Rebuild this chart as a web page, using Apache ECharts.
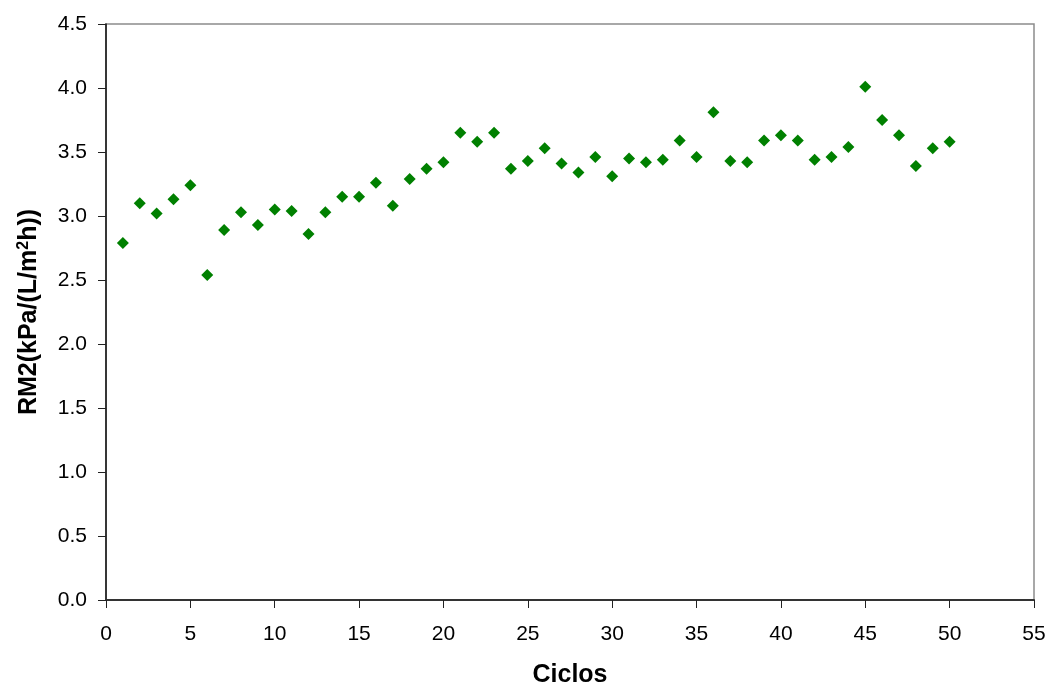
<!DOCTYPE html>
<html>
<head>
<meta charset="utf-8">
<script src="https://cdn.jsdelivr.net/npm/echarts@6/dist/echarts.min.js"></script>
<style>html,body{margin:0;padding:0;background:#fff;}#c{width:1049px;height:693px;}</style>
</head>
<body>
<div id="c"></div>
<script>
const ciclos = [1,2,3,4,5,6,7,8,9,10,11,12,13,14,15,16,17,18,19,20,21,22,23,24,25,26,27,28,29,30,31,32,33,34,35,36,37,38,39,40,41,42,43,44,45,46,47,48,49,50];
const rm2 = [2.79,3.10,3.02,3.13,3.24,2.54,2.89,3.03,2.93,3.05,3.04,2.86,3.03,3.15,3.15,3.26,3.08,3.29,3.37,3.42,
             3.65,3.58,3.65,3.37,3.43,3.53,3.41,3.34,3.46,3.31,3.45,3.42,3.44,3.59,3.46,3.81,3.43,3.42,3.59,3.63,
             3.59,3.44,3.46,3.54,4.01,3.75,3.63,3.39,3.53,3.58];
const xTitle = 'Ciclos';
const yTitle = 'RM2(kPa/(L/m{sup|2}h))';

const FONT = 'Liberation Sans, Arial, sans-serif';
const chart = echarts.init(document.getElementById('c'));
chart.setOption({
  animation: false,
  backgroundColor: '#ffffff',
  grid: {left: 106, right: 15, top: 24, bottom: 89, show: true, borderColor: '#8c8c8c', borderWidth: 1.5, containLabel: false},
  xAxis: {
    type: 'value', min: 0, max: 55, interval: 5,
    name: xTitle, nameLocation: 'middle', nameGap: 63,
    nameTextStyle: {fontFamily: FONT, fontSize: 25, fontWeight: 'bold', color: '#000'},
    axisLine: {show: true, onZero: false, lineStyle: {color: '#333', width: 2}},
    axisTick: {show: true, inside: false, length: 8, lineStyle: {color: '#222'}},
    axisLabel: {fontFamily: FONT, fontSize: 21, color: '#000', margin: 24},
    splitLine: {show: false}
  },
  yAxis: {
    type: 'value', min: 0, max: 4.5, interval: 0.5,
    name: yTitle, nameLocation: 'middle', nameGap: 64,
    nameTextStyle: {fontFamily: FONT, fontSize: 25, fontWeight: 'bold', color: '#000',
      rich: {sup: {fontFamily: FONT, fontSize: 16, fontWeight: 'bold', color: '#000', verticalAlign: 'top', padding: [0, 0, 10, 0]}}},
    axisLine: {show: true, onZero: false, lineStyle: {color: '#111', width: 1.5}},
    axisTick: {show: true, inside: false, length: 8, lineStyle: {color: '#222'}},
    axisLabel: {fontFamily: FONT, fontSize: 21, color: '#000', margin: 19, formatter: v => v.toFixed(1)},
    splitLine: {show: false}
  },
  series: [{
    type: 'scatter',
    symbol: 'diamond',
    symbolSize: 12,
    itemStyle: {color: '#008000', opacity: 1},
    data: ciclos.map((c, i) => [c, rm2[i]])
  }]
});
</script>
</body>
</html>
